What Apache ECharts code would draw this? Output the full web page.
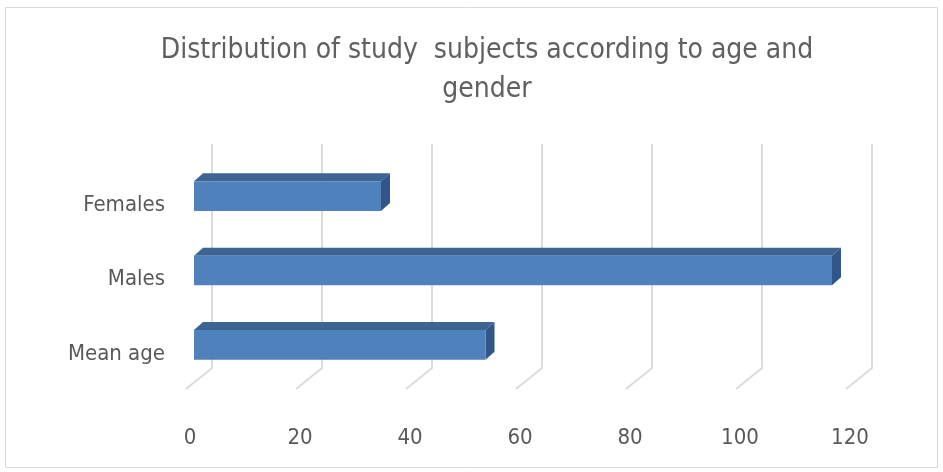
<!DOCTYPE html>
<html>
<head>
<meta charset="utf-8">
<script src="https://cdn.jsdelivr.net/npm/echarts@6/dist/echarts.min.js"></script>
<style>
  html, body { margin: 0; padding: 0; background: #fff; }
  #chart { width: 943px; height: 472px; }
</style>
</head>
<body>
<div id="chart"></div>
<script>
var categories = ['Mean age', 'Males', 'Females'];
var values = [53, 116, 34];
var xTicks = [0, 20, 40, 60, 80, 100, 120];

var FONT = '"Liberation Sans Narrow", "DejaVu Sans Condensed", sans-serif';
var TEXT = '#595959';
var FRONT = '#4f81bd', TOP = '#3d6493', SIDE = '#31578a';

var Chart = {
	init: function () {
		var myChart = echarts.init(document.getElementById('chart'));
		var barData = values.map(function (v, i) { return [v, i]; });
		var tickData = xTicks.map(function (t) { return [t, 0]; });

		var option = {
			backgroundColor: '#fff',
			animation: false,
			title: {
				text: 'Distribution of study  subjects according to age and\ngender',
				left: 482,
				textAlign: 'center',
				top: 26,
				textStyle: { fontFamily: FONT, fontSize: 28, fontWeight: 'normal', color: '#606060', lineHeight: 39 }
			},
			graphic: [{
				type: 'rect', shape: { x: 5.5, y: 7.5, width: 932, height: 460 },
				style: { fill: 'none', stroke: '#d9d9d9', lineWidth: 1 }, z: -10
			}],
			grid: { left: 194, right: 89, top: 159, bottom: 90 },
			xAxis: {
				type: 'value', min: 0, max: 120, interval: 20,
				axisLine: { show: false }, axisTick: { show: false }, splitLine: { show: false },
				axisLabel: { fontFamily: FONT, fontSize: 22, color: TEXT, margin: 45, padding: [0, 8, 0, 0] }
			},
			yAxis: {
				type: 'category', data: categories,
				axisLine: { show: false }, axisTick: { show: false },
				axisLabel: { fontFamily: FONT, fontSize: 22, color: TEXT, margin: 29, verticalAlign: 'top', lineHeight: 18 }
			},
			series: [{
				// wall and floor grid lines
				type: 'custom', z: 1, silent: true,
				data: tickData,
				renderItem: function (params, api) {
					var cs = params.coordSys;
					var x = api.coord([api.value(0), 0])[0];
					var top = cs.y, bot = cs.y + cs.height;
					return {
						type: 'polyline',
						shape: { points: [[x + 18, top - 15], [x + 18, bot - 14], [x - 8, bot + 7]] },
						style: { stroke: '#dcdcdc', lineWidth: 2, fill: 'none' }
					};
				}
			}, {
				// 3d-looking bars
				type: 'custom', z: 2,
				data: barData,
				renderItem: function (params, api) {
					var cat = api.value(1);
					var p0 = api.coord([0, cat]);
					var p1 = api.coord([api.value(0), cat]);
					var h = api.size([0, 1])[1] * 0.4;
					var dx = 9, dy = 8;
					var x0 = p0[0], x1 = p1[0], yt = p0[1] - h / 2, yb = p0[1] + h / 2;
					return {
						type: 'group',
						children: [{
							type: 'polygon',
							shape: { points: [[x0, yt], [x0 + dx, yt - dy], [x1 + dx, yt - dy], [x1, yt]] },
							style: { fill: TOP }
						}, {
							type: 'polygon',
							shape: { points: [[x1, yt], [x1 + dx, yt - dy], [x1 + dx, yb - dy], [x1, yb]] },
							style: { fill: SIDE }
						}, {
							type: 'rect',
							shape: { x: x0, y: yt, width: x1 - x0, height: h },
							style: { fill: FRONT }
						}]
					};
				}
			}]
		};
		window.addEventListener('resize', function () {
			myChart.resize();
		});
		myChart.setOption(option, true);
	}
};

Chart.init();
</script>
</body>
</html>
